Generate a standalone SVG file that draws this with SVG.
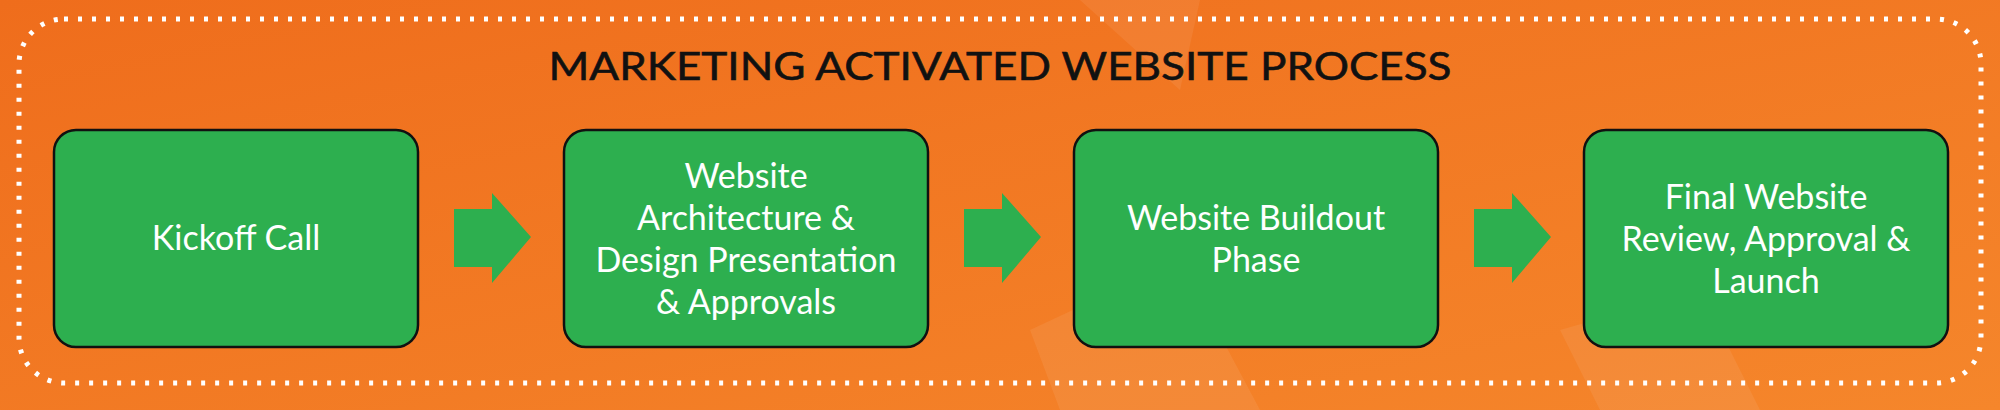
<svg xmlns="http://www.w3.org/2000/svg" width="2000" height="410" viewBox="0 0 2000 410">
<defs>
<linearGradient id="bg" x1="0" y1="0" x2="1" y2="1">
<stop offset="0" stop-color="#ef6d1c"/><stop offset="1" stop-color="#f5862b"/>
</linearGradient>
</defs>
<style>
.box{fill:#2daf4f;stroke:#111;stroke-width:2.5}
.arr{fill:#2daf4f}
.t{font-family:Lato,"Open Sans",sans-serif;font-size:34px;fill:#fff;text-anchor:middle;dominant-baseline:central}
.title{font-family:Lato,"Open Sans",sans-serif;font-size:39px;fill:#111;text-anchor:middle;stroke:#111;stroke-width:0.6}
</style>
<rect width="2000" height="410" fill="url(#bg)"/>
<g fill="#fff" opacity="0.07">
<polygon points="1030,330 1180,260 1260,410 1060,410"/>
<polygon points="1560,330 1700,290 1760,410 1600,410"/>
<polygon points="1080,0 1200,0 1180,90"/>
</g>
<rect x="19" y="19" width="1962" height="364" rx="45" fill="none" stroke="#fff" stroke-width="5" stroke-dasharray="4 10"/>
<text class="title" x="1000" y="80" textLength="903" lengthAdjust="spacingAndGlyphs">MARKETING ACTIVATED WEBSITE PROCESS</text>
<g id="connectors">
<polygon class="arr" points="454,209 492,209 492,193 531,237 492,283 492,267 454,267"/>
<polygon class="arr" points="964,209 1002,209 1002,193 1041,237 1002,283 1002,267 964,267"/>
<polygon class="arr" points="1474,209 1512,209 1512,193 1551,237 1512,283 1512,267 1474,267"/>
</g>
<g id="n1"><rect class="box" x="54" y="130" width="364" height="217" rx="22"/>
<text class="t" x="236" y="236">Kickoff Call</text></g>
<g id="n2"><rect class="box" x="564" y="130" width="364" height="217" rx="22"/>
<text class="t" x="746" y="174">Website</text>
<text class="t" x="746" y="216">Architecture &amp;</text>
<text class="t" x="746" y="258">Design Presentation</text>
<text class="t" x="746" y="300">&amp; Approvals</text></g>
<g id="n3"><rect class="box" x="1074" y="130" width="364" height="217" rx="22"/>
<text class="t" x="1256" y="216">Website Buildout</text>
<text class="t" x="1256" y="258">Phase</text></g>
<g id="n4"><rect class="box" x="1584" y="130" width="364" height="217" rx="22"/>
<text class="t" x="1766" y="195">Final Website</text>
<text class="t" x="1766" y="237">Review, Approval &amp;</text>
<text class="t" x="1766" y="279">Launch</text></g>
</svg>
